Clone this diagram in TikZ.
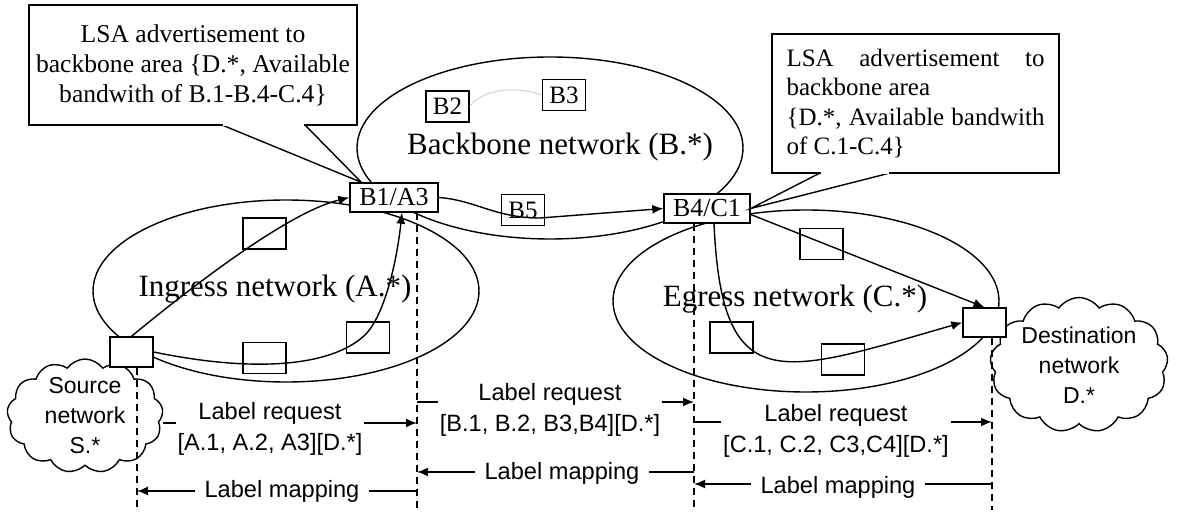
\documentclass[tikz,border=0pt]{standalone}
\usepackage{fontspec}
\setmainfont{Liberation Serif}
\setsansfont{Liberation Sans}
\usetikzlibrary{arrows.meta,calc,shapes.geometric,shapes.symbols}

\begin{document}
\begin{tikzpicture}[x=0.5pt,y=-0.5pt,>={Latex[length=5.5pt,width=4.5pt]},line width=0.7pt,
	area/.style={draw,ellipse,minimum width=193pt,minimum height=91pt,inner sep=0pt},
	areatext/.style={font=\fontsize{15.5}{18}\selectfont},
	router/.style={draw,fill=white,inner sep=0pt,minimum height=14.5pt,font=\fontsize{13}{15}\selectfont},
	hop/.style={draw,inner sep=0pt,minimum width=21.5pt,minimum height=15.5pt,font=\fontsize{12.5}{15}\selectfont},
	net/.style={draw,fill=white,cloud,cloud puffs=13,cloud puff arc=110,inner sep=-4pt,align=center,font=\sffamily\fontsize{11.5}{15}\selectfont},
	lsa/.style={draw,fill=white,inner sep=0pt,outer sep=0pt,font=\fontsize{12.8}{15}\selectfont},
	column/.style={dash pattern=on 3.5pt off 2.5pt,line width=0.6pt},
	msg/.style={->,line width=0.8pt},
	msgtext/.style={fill=white,inner sep=1pt,align=center,font=\sffamily\fontsize{11.8}{15.5}\selectfont}]
	\useasboundingbox (0,0) rectangle (1180,517);

	\node[area] (ingress) at (286,291) {};
	\node[area] (backbone) at (550,148) {};
	\node[area] (egress) at (806,301) {};

	\node[net,minimum width=78pt,minimum height=57pt] (srcnet) at (85,416) {Source\\network\\S.*};
	\node[net,minimum width=89pt,minimum height=58pt,inner xsep=-7pt,inner ysep=-3pt] (dstnet) at (1079,365) {Destination\\network\\D.*};

	\node[router,minimum width=44pt] (b1a3) at (394,197.5) {B1/A3};
	\node[router,minimum width=43pt] (b4c1) at (707,208.5) {B4/C1};
	\node[router,minimum width=21.5pt,minimum height=15pt] (src) at (131.5,352) {};
	\node[router,minimum width=21.5pt] (dst) at (984.5,322.5) {};

	\node[hop] (ha1) at (264.5,233.5) {};
	\node[hop] (ha2) at (264.5,358) {};
	\node[hop] (ha3) at (368,337.5) {};
	\node[hop] (b2) at (447.5,106.5) {B2};
	\node[hop] (b3) at (564,95) {B3};
	\node[hop] (b5) at (523,210) {B5};
	\node[hop] (hc1) at (821.5,244) {};
	\node[hop] (hc2) at (731.5,337.5) {};
	\node[hop] (hc3) at (843,359.5) {};

	\node[areatext] (ingressname) at (275,289) {Ingress network (A.*)};
	\node[areatext] (backbonename) at (560,147) {Backbone network (B.*)};
	\node[areatext] (egressname) at (795,299) {Egress network (C.*)};

	\node[lsa,minimum width=164pt,minimum height=60pt,align=center] (lsaB) at (193,65)
		{LSA advertisement to\\backbone area \{D.*, Available\\bandwith of B.1-B.4-C.4\}};
	\node[lsa,minimum width=143.5pt,minimum height=69.5pt,text width=129pt,align=justify,
		font=\fontsize{12.5}{14.8}\selectfont] (lsaC) at (915.5,103.5)
		{LSA advertisement to\linebreak backbone area\\\{D.*, Available bandwith\linebreak of C.1-C.4\}};
	\draw ([xshift=96.5pt]lsaB.south west) -- ([xshift=6pt]b1a3.north west) -- ([xshift=138pt]lsaB.south west);
	\draw[white,line width=1.2pt] ([xshift=97pt]lsaB.south west) -- ([xshift=137.5pt]lsaB.south west);
	\draw ([xshift=24pt]lsaC.south west) -- (b4c1.east) -- ([xshift=59pt]lsaC.south west);
	\draw[white,line width=1.2pt] ([xshift=24.5pt]lsaC.south west) -- ([xshift=58.5pt]lsaC.south west);

	\draw[->] (src.north) .. controls (200,280) and (290,212) .. (b1a3.west);
	\draw[->] (src.east) .. controls (250,372) and (330,368) .. (365,335)
		.. controls (385,315) and (397,260) .. ([xshift=4pt]b1a3.south);
	\draw[->] (b1a3.east) .. controls (475,200) and (495,218) .. (540,218) -- (b4c1.west);
	\draw[->] ([yshift=-3pt]b4c1.east) -- (dst.north);
	\draw[->] ([xshift=3.5pt]b4c1.south) .. controls (722,400) and (780,375) .. (dst.west);
	\draw[gray!35,line width=0.5pt] (b2.east) .. controls (480,92) and (510,84) .. (b3.west);

	\coordinate (base) at (0,510);
	\coordinate (colS) at ([xshift=2.75pt]src.south);
	\coordinate (colA) at ([xshift=11.5pt]b1a3.south);
	\coordinate (colC) at ([xshift=-6.5pt]b4c1.south);
	\coordinate (colD) at ([xshift=3.75pt]dst.south);
	\draw[column] (colS) -- (colS |- base);
	\draw[column] (colA) -- (colA |- base);
	\draw[column] (colC) -- (colC |- base);
	\draw[column] (colD) -- (colD |- base);

	\draw[msg] (srcnet.east |- 0,423) -- (colA |- 0,423);
	\node[msgtext] (reqA) at (270,429) {Label request\\{[A.1, A.2, A3][D.*]}};
	\draw[msg] (colA |- 0,491) -- (colS |- 0,491);
	\node[msgtext,inner xsep=5pt] (mapA) at (282,491) {Label mapping};

	\draw[msg] (colA |- 0,402) -- (colC |- 0,402);
	\node[msgtext] (reqB) at (550,410) {Label request\\{[B.1, B.2, B3,B4][D.*]}};
	\draw[msg] (colC |- 0,472) -- (colA |- 0,472);
	\node[msgtext,inner xsep=5pt] (mapB) at (562,473) {Label mapping};

	\draw[msg] (colC |- 0,422) -- (colD |- 0,422);
	\node[msgtext] (reqC) at (836,431) {Label request\\{[C.1, C.2, C3,C4][D.*]}};
	\draw[msg] (colD |- 0,484) -- (colC |- 0,484);
	\node[msgtext,inner xsep=5pt] (mapC) at (838,487) {Label mapping};
\end{tikzpicture}
\end{document}
